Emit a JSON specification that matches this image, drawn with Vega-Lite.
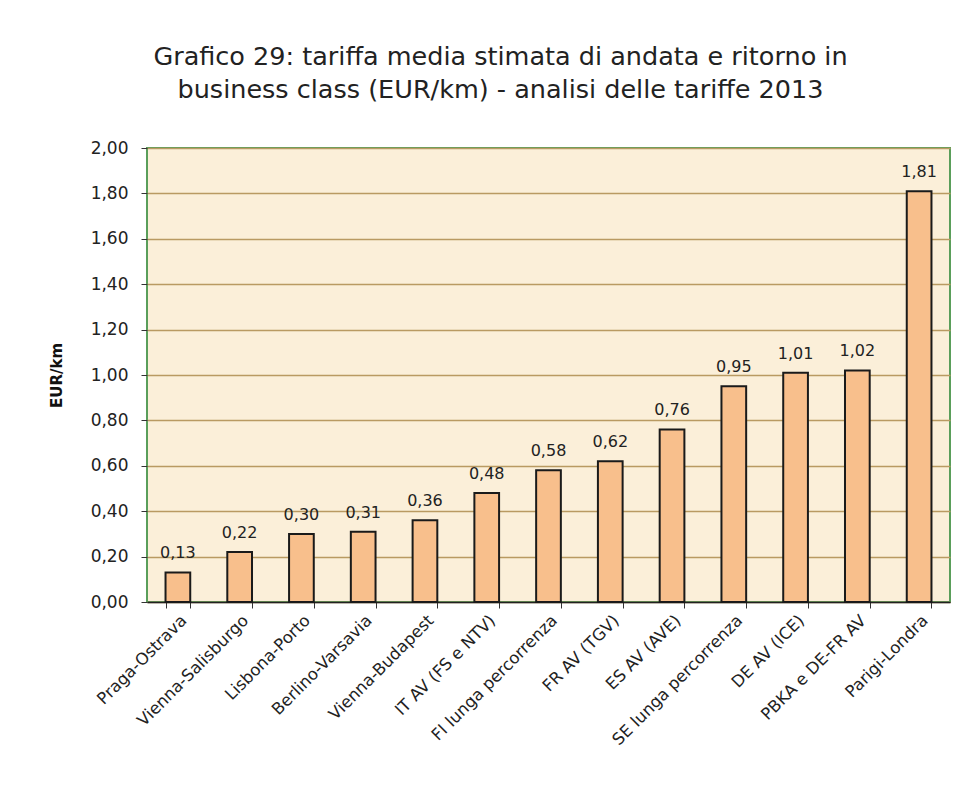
{
  "$schema": "https://vega.github.io/schema/vega-lite/v6.json",
  "width": 803,
  "height": 454,
  "autosize": {"type": "none"},
  "padding": {"left": 147, "top": 148, "right": 8, "bottom": 185},
  "background": "white",
  "title": {
    "text": ["Grafico 29: tariffa media stimata di andata e ritorno in", "business class (EUR/km) - analisi delle tariffe 2013"],
    "font": "DejaVu Sans",
    "fontSize": 25.5,
    "fontWeight": "normal",
    "color": "#222222",
    "anchor": "middle",
    "dx": -48,
    "offset": 36,
    "lineHeight": 33
  },
  "data": {
    "values": [
      {"tratta": "Praga-Ostrava", "tariffa": 0.13},
      {"tratta": "Vienna-Salisburgo", "tariffa": 0.22},
      {"tratta": "Lisbona-Porto", "tariffa": 0.30},
      {"tratta": "Berlino-Varsavia", "tariffa": 0.31},
      {"tratta": "Vienna-Budapest", "tariffa": 0.36},
      {"tratta": "IT AV (FS e NTV)", "tariffa": 0.48},
      {"tratta": "FI lunga percorrenza", "tariffa": 0.58},
      {"tratta": "FR AV (TGV)", "tariffa": 0.62},
      {"tratta": "ES AV (AVE)", "tariffa": 0.76},
      {"tratta": "SE lunga percorrenza", "tariffa": 0.95},
      {"tratta": "DE AV (ICE)", "tariffa": 1.01},
      {"tratta": "PBKA e DE-FR AV", "tariffa": 1.02},
      {"tratta": "Parigi-Londra", "tariffa": 1.81}
    ]
  },
  "encoding": {
    "x": {
      "field": "tratta",
      "type": "nominal",
      "sort": null,
      "scale": {"paddingInner": 0.6, "paddingOuter": 0.3},
      "axis": {
        "title": null,
        "labelAngle": -45,
        "labelFont": "DejaVu Sans",
        "labelFontSize": 16.5,
        "labelColor": "#222222",
        "labelPadding": 4,
        "labelLimit": 400,
        "tickBand": "extent",
        "tickSize": 6,
        "tickColor": "#333333",
        "domainColor": "#222222",
        "domainWidth": 1.5
      }
    },
    "y": {
      "field": "tariffa",
      "type": "quantitative",
      "scale": {"domain": [0, 2]},
      "axis": {
        "title": "EUR/km",
        "titleFont": "DejaVu Sans",
        "titleFontSize": 15,
        "titleFontWeight": "bold",
        "titleColor": "#111111",
        "titlePadding": 26,
        "values": [0, 0.2, 0.4, 0.6, 0.8, 1.0, 1.2, 1.4, 1.6, 1.8, 2.0],
        "format": ".2f",
        "labelFont": "DejaVu Sans",
        "labelFontSize": 17,
        "labelColor": "#222222",
        "labelPadding": 13,
        "tickSize": 6,
        "tickColor": "#333333",
        "domain": false,
        "grid": true,
        "gridColor": "#b99a62",
        "gridWidth": 1.5
      }
    }
  },
  "layer": [
    {
      "mark": {"type": "bar", "fill": "#f8bf8c", "stroke": "#1a1a1a", "strokeWidth": 2}
    },
    {
      "mark": {"type": "text", "dy": -19, "font": "DejaVu Sans", "fontSize": 16, "color": "#222222"},
      "encoding": {"text": {"field": "tariffa", "type": "quantitative", "format": ".2f"}}
    }
  ],
  "config": {
    "locale": {"number": {"decimal": ",", "thousands": ".", "grouping": [3], "currency": ["", " €"]}},
    "view": {"stroke": "#5a9e5a", "strokeWidth": 2, "fill": "#fbefd9"}
  }
}
